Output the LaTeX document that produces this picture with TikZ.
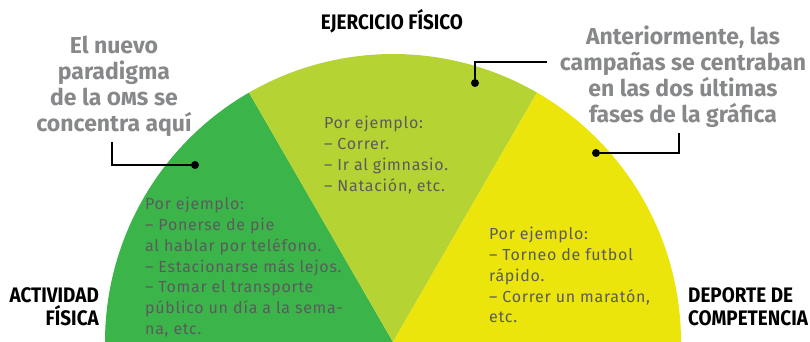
\documentclass[tikz,border=0pt]{standalone}
\usepackage{fontspec}
\setmainfont{Fira Sans}
\newfontfamily\condfont[FakeStretch=0.9]{Fira Sans}
\newfontfamily\ejfont[LetterSpace=4.5]{Fira Sans}
\usepackage{xcolor}
\usepackage{tikz}
\definecolor{verdeA}{HTML}{3BB44A}
\definecolor{verdeB}{HTML}{B6D334}
\definecolor{amarillo}{HTML}{EBE50C}
\definecolor{grisT}{HTML}{87888A}
\definecolor{grisE}{HTML}{5B5B5D}

\tikzset{
  fase/.style = {font = \condfont\bfseries\fontsize{21}{23}\selectfont, inner sep = 0},
  nota/.style = {font = \bfseries\fontsize{23}{26}\selectfont, text = grisT, align = center, inner sep = 0},
  ejemplo/.style = {font = \ejfont\fontsize{16}{20.8}\selectfont, text = grisE, align = left, inner sep = 0, anchor = north west},
  guia/.style = {line width = 2.5pt},
  punto/.style = {circle, fill = black, minimum size = 8pt, inner sep = 0}
}

\begin{document}
\begin{tikzpicture}[x = 1pt, y = 1pt]
  \useasboundingbox (0, 0) rectangle (810, 342);
  \coordinate (O) at (393, 0);

  \fill[verdeA] (O) -- ++(180:288) arc (180:120:288) -- cycle;
  \fill[verdeB] (O) -- ++(120:288) arc (120:60:288) -- cycle;
  \fill[amarillo] (O) -- ++(60:288) arc (60:0:288) -- cycle;

  \node[fase, anchor = base] (ejercicio) at (392, 312) {
    EJERCICIO FÍSICO
  };

  \node[fase, anchor = north east, align = right] (actividad) at (99, 55) {
    ACTIVIDAD\\FÍSICA
  };

  \node[fase, anchor = north west, align = left] (deporte) at (688, 55) {
    DEPORTE DE\\COMPETENCIA
  };

  \node[nota, anchor = north] (nuevo) at (114, 306) {
    El nuevo\\paradigma\\de la \textsc{oms} se\\concentra aquí
  };

  \node[nota, anchor = north] (antes) at (683, 316) {
    Anteriormente, las\\campañas se centraban\\en las dos últimas\\fases de la gráfica
  };

  \node[ejemplo] (ejA) at (145, 145) {
    Por ejemplo:\\– Ponerse de pie\\al hablar por teléfono.\\– Estacionarse más lejos.\\– Tomar el transporte\\público un día a la sema-\\na, etc.
  };

  \node[ejemplo] (ejB) at (324, 226) {
    Por ejemplo:\\– Correr.\\– Ir al gimnasio.\\– Natación, etc.
  };

  \node[ejemplo] (ejC) at (489, 115) {
    Por ejemplo:\\– Torneo de futbol\\rápido.\\– Correr un maratón,\\etc.
  };

  \node[punto] (P1) at (195, 177) {};
  \node[punto] (P2) at (475, 259) {};
  \node[punto] (P3) at (596, 189) {};
  \coordinate (C2) at (547, 280);

  \draw[guia] ([xshift = -2pt, yshift = -5pt]nuevo.south) |- (P1);
  \draw[guia] (C2) -| (P2);
  \draw[guia] ([xshift = -4pt, yshift = -5pt]antes.south) |- (P3);
\end{tikzpicture}
\end{document}
